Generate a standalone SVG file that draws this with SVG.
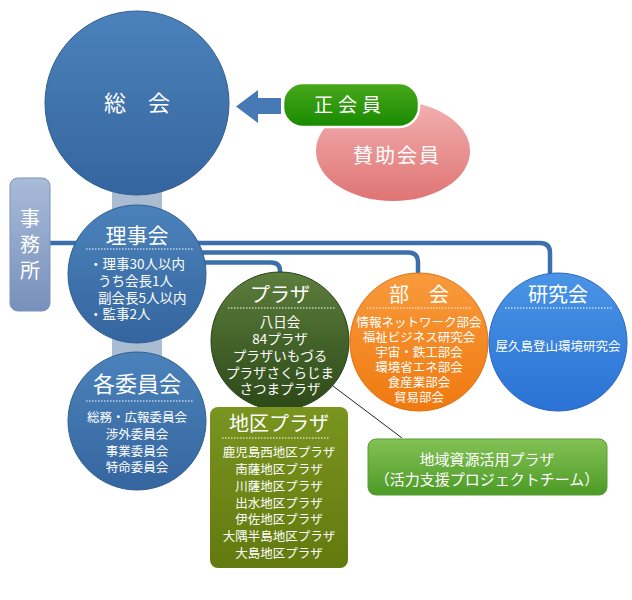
<svg xmlns="http://www.w3.org/2000/svg" width="632" height="600" viewBox="0 0 632 600">
<defs>
<linearGradient id="gBlue" x1="0" y1="0" x2="0" y2="1"><stop offset="0" stop-color="#4b82bb"/><stop offset="1" stop-color="#35659e"/></linearGradient>
<linearGradient id="gGreenBtn" x1="0" y1="0" x2="0" y2="1"><stop offset="0" stop-color="#4aa81c"/><stop offset="1" stop-color="#178a00"/></linearGradient>
<linearGradient id="gPink" x1="0" y1="0" x2="0" y2="1"><stop offset="0" stop-color="#f2b0b0"/><stop offset="1" stop-color="#e07474"/></linearGradient>
<linearGradient id="gOffice" x1="0" y1="0" x2="0" y2="1"><stop offset="0" stop-color="#a8bbd8"/><stop offset="1" stop-color="#7890bc"/></linearGradient>
<linearGradient id="gPlaza" x1="0" y1="0" x2="0" y2="1"><stop offset="0" stop-color="#5c7e3c"/><stop offset="1" stop-color="#2c4818"/></linearGradient>
<linearGradient id="gOrange" x1="0" y1="0" x2="0" y2="1"><stop offset="0" stop-color="#f89a3c"/><stop offset="1" stop-color="#f07a10"/></linearGradient>
<linearGradient id="gSky" x1="0" y1="0" x2="0" y2="1"><stop offset="0" stop-color="#4a94e6"/><stop offset="1" stop-color="#2a72d4"/></linearGradient>
<linearGradient id="gOlive" x1="0" y1="0" x2="0" y2="1"><stop offset="0" stop-color="#7a9420"/><stop offset="1" stop-color="#627a0e"/></linearGradient>
<linearGradient id="gLight" x1="0" y1="0" x2="0" y2="1"><stop offset="0" stop-color="#84c256"/><stop offset="1" stop-color="#4c9a26"/></linearGradient>
<style>
text{font-family:"Noto Sans CJK JP","Noto Sans",sans-serif;fill:#ffffff;text-anchor:middle}
.t{font-size:20px}
.s{font-size:12.5px}
.m{font-size:13.5px}
.dot{stroke:#ffffff;stroke-width:1;stroke-dasharray:1.5 1.5;fill:none}
.con{stroke:#3c70ad;stroke-width:4.5;fill:none}
</style>
</defs>
<rect x="112" y="185" width="50" height="210" fill="#a9bcd2"/>
<g id="connectors">
<path class="con" d="M50 243 H540 Q550 243 550 253 V274"/>
<path class="con" d="M200 252.5 H408 Q418 252.5 418 262 V275"/>
<path class="con" d="M200 262.5 H271 Q280 262.5 280 271 V274"/>
<line x1="333" y1="386" x2="402" y2="438" stroke="#222" stroke-width="1"/>
<path d="M236 106.5 L258 90 V98 H281 V114 H258 V123 Z" fill="#4779b4"/>
</g>
<g id="soukai">
<circle cx="137" cy="103" r="92" fill="url(#gBlue)" stroke="#30608f" stroke-width="1"/>
<text x="137" y="111" style="font-size:22px">総　会</text>
</g>
<g id="sanjo">
<ellipse cx="393" cy="151" rx="77" ry="50" fill="url(#gPink)"/>
<text x="397" y="163" class="t" style="letter-spacing:2px">賛助会員</text>
</g>
<g id="seikaiin">
<rect x="283" y="83" width="136" height="44" rx="20" fill="url(#gGreenBtn)" stroke="#ffffff" stroke-width="2.5"/>
<text x="350" y="112" style="font-size:19px;letter-spacing:5px">正会員</text>
</g>
<g id="jimusho">
<rect x="10" y="178" width="40" height="133" rx="8" fill="url(#gOffice)" stroke="#7a92bb" stroke-width="1"/>
<text x="30" y="226" class="t">事</text>
<text x="30" y="252" class="t">務</text>
<text x="30" y="278" class="t">所</text>
</g>
<g id="rijikai">
<circle cx="137" cy="274" r="69" fill="url(#gBlue)" stroke="#30608f" stroke-width="1"/>
<text x="137" y="243" style="font-size:21px">理事会</text>
<line class="dot" x1="86" y1="249" x2="193" y2="249"/>
<text x="89" y="269" class="m" style="text-anchor:start">・理事30人以内</text>
<text x="98" y="286" class="m" style="text-anchor:start">うち会長1人</text>
<text x="98" y="303" class="m" style="text-anchor:start">副会長5人以内</text>
<text x="89" y="319" class="m" style="text-anchor:start">・監事2人</text>
</g>
<g id="iinkai">
<circle cx="137" cy="421" r="69" fill="url(#gBlue)" stroke="#30608f" stroke-width="1"/>
<text x="137" y="392" style="font-size:22px">各委員会</text>
<line class="dot" x1="86" y1="401" x2="193" y2="401"/>
<text x="137" y="422" class="s">総務・広報委員会</text>
<text x="137" y="439" class="s">渉外委員会</text>
<text x="137" y="456" class="s">事業委員会</text>
<text x="137" y="472" class="s">特命委員会</text>
</g>
<g id="plaza">
<circle cx="280" cy="341" r="69" fill="url(#gPlaza)" stroke="#24401a" stroke-width="1"/>
<text x="280" y="302" class="t">プラザ</text>
<line class="dot" x1="228" y1="308" x2="335" y2="308"/>
<text x="280" y="327" class="m">八日会</text>
<text x="280" y="344" class="m">84プラザ</text>
<text x="280" y="361" class="m">プラザいもづる</text>
<text x="280" y="378" class="m">プラザさくらじま</text>
<text x="280" y="394" class="m">さつまプラザ</text>
</g>
<g id="bukai">
<circle cx="419" cy="342" r="69" fill="url(#gOrange)" stroke="#e07010" stroke-width="1"/>
<text x="419" y="302" class="t">部　会</text>
<line class="dot" x1="367" y1="308" x2="472" y2="308"/>
<text x="419" y="327" class="s">情報ネットワーク部会</text>
<text x="419" y="342" class="s">福祉ビジネス研究会</text>
<text x="419" y="357" class="s">宇宙・鉄工部会</text>
<text x="419" y="372" class="s">環境省エネ部会</text>
<text x="419" y="387" class="s">食産業部会</text>
<text x="419" y="402" class="s">貿易部会</text>
</g>
<g id="kenkyukai">
<circle cx="558" cy="342" r="69" fill="url(#gSky)" stroke="#2a66c0" stroke-width="1"/>
<text x="558" y="302" class="t">研究会</text>
<line class="dot" x1="505" y1="308" x2="612" y2="308"/>
<text x="558" y="351" class="s">屋久島登山環境研究会</text>
</g>
<g id="chiku">
<rect x="210" y="407" width="138" height="161" rx="8" fill="url(#gOlive)"/>
<text x="279" y="431" class="t">地区プラザ</text>
<line class="dot" x1="222" y1="438" x2="329" y2="438"/>
<text x="279" y="457" class="s">鹿児島西地区プラザ</text>
<text x="279" y="474" class="s">南薩地区プラザ</text>
<text x="279" y="491" class="s">川薩地区プラザ</text>
<text x="279" y="508" class="s">出水地区プラザ</text>
<text x="279" y="524" class="s">伊佐地区プラザ</text>
<text x="279" y="541" class="s">大隅半島地区プラザ</text>
<text x="279" y="558" class="s">大島地区プラザ</text>
</g>
<g id="chiiki">
<rect x="368" y="439" width="239" height="56" rx="8" fill="url(#gLight)" stroke="#5a9a3a" stroke-width="1"/>
<text x="487" y="465" style="font-size:15px">地域資源活用プラザ</text>
<text x="487" y="485" style="font-size:15px">（活力支援プロジェクトチーム）</text>
</g>
</svg>
